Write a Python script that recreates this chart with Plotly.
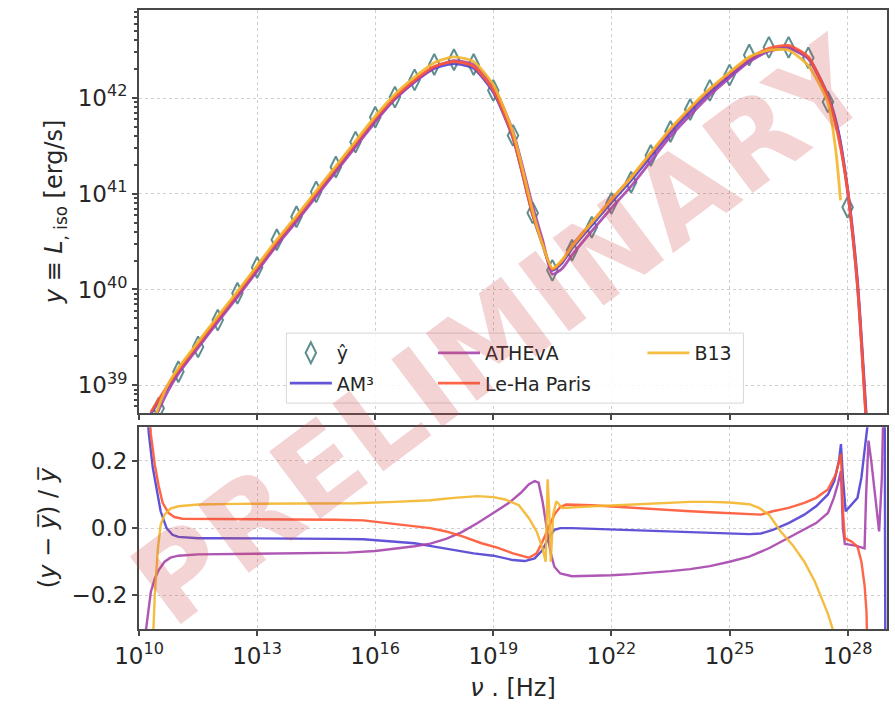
import plotly.graph_objects as go

# ---------------- data (log10 values) ----------------
nu_obs = [10.5, 11.0, 11.5, 12.0, 12.5, 13.0, 13.5, 14.0, 14.5, 15.0, 15.5, 16.0,
          16.5, 17.0, 17.5, 18.0, 18.5, 19.0, 19.5, 20.0, 20.5, 21.0, 21.5, 22.0,
          22.5, 23.0, 23.5, 24.0, 24.5, 25.0, 25.5, 26.0, 26.5, 27.0, 27.5, 28.0]
L_obs = [38.76, 39.14, 39.40, 39.68, 39.96, 40.23, 40.52, 40.76, 41.02, 41.28, 41.54, 41.80,
         42.01, 42.19, 42.35, 42.40, 42.35, 42.08, 41.61, 40.80, 40.20, 40.41, 40.65, 40.90,
         41.12, 41.40, 41.65, 41.88, 42.08, 42.24, 42.45, 42.53, 42.53, 42.42, 41.96, 40.86]

nu_sed = [10.3, 10.5, 10.75, 11.0, 11.5, 12.0, 12.5, 13.0, 13.5, 14.0, 14.5, 15.0, 15.5,
          16.0, 16.5, 17.0, 17.5, 18.0, 18.5, 19.0, 19.5, 20.0, 20.25, 20.5, 20.75, 21.0,
          21.5, 22.0, 22.5, 23.0, 23.5, 24.0, 24.5, 25.0, 25.5, 26.0, 26.5, 27.0, 27.5,
          27.75, 28.0, 28.25, 28.5]
L_am3 = [38.70, 38.83, 38.99, 39.14, 39.41, 39.68, 39.94, 40.21, 40.48, 40.73, 40.99, 41.25, 41.51,
         41.77, 41.99, 42.17, 42.31, 42.36, 42.31, 42.06, 41.58, 40.78, 40.47, 40.20, 40.28, 40.43,
         40.67, 40.91, 41.14, 41.39, 41.64, 41.86, 42.06, 42.23, 42.39, 42.50, 42.53, 42.42, 42.03,
         41.68, 41.05, 40.09, 38.50]
L_athe = [38.55, 38.74, 38.95, 39.12, 39.39, 39.66, 39.92, 40.19, 40.46, 40.71, 40.97, 41.23, 41.49,
          41.75, 41.99, 42.17, 42.32, 42.39, 42.35, 42.12, 41.65, 40.87, 40.52, 40.16, 40.22, 40.36,
          40.61, 40.85, 41.08, 41.34, 41.60, 41.82, 42.03, 42.21, 42.38, 42.49, 42.52, 42.41, 42.00,
          41.66, 41.02, 40.03, 38.45]
L_leha = [38.72, 38.85, 39.01, 39.16, 39.43, 39.70, 39.96, 40.23, 40.50, 40.75, 41.01, 41.27, 41.53,
          41.79, 42.01, 42.19, 42.33, 42.38, 42.33, 42.08, 41.59, 40.78, 40.48, 40.21, 40.30, 40.46,
          40.70, 40.94, 41.17, 41.42, 41.67, 41.89, 42.09, 42.26, 42.42, 42.52, 42.55, 42.43, 42.01,
          41.62, 41.04, 40.05, 38.40]
nu_b13 = [10.3, 10.5, 10.75, 11.0, 11.5, 12.0, 12.5, 13.0, 13.5, 14.0, 14.5, 15.0, 15.5,
          16.0, 16.5, 17.0, 17.5, 18.0, 18.5, 19.0, 19.5, 20.0, 20.25, 20.5, 20.75, 21.0,
          21.5, 22.0, 22.5, 23.0, 23.5, 24.0, 24.5, 25.0, 25.5, 26.0, 26.5, 27.0, 27.5,
          27.7, 27.82]
L_b13 = [38.50, 38.78, 39.02, 39.18, 39.45, 39.72, 39.98, 40.25, 40.52, 40.77, 41.03, 41.29, 41.55,
         41.81, 42.04, 42.22, 42.37, 42.43, 42.38, 42.14, 41.64, 40.82, 40.47, 40.22, 40.31, 40.45,
         40.70, 40.94, 41.17, 41.43, 41.68, 41.90, 42.10, 42.27, 42.43, 42.50, 42.50, 42.34, 41.95,
         41.45, 40.93]

# residuals (y - ybar)/ybar
nu_r_am3 = [10.15, 10.25, 10.35, 10.45, 10.55, 10.7, 10.85, 11.0, 11.5, 12.0, 13.0, 14.0, 15.0, 15.7,
            16.5, 17.0, 17.5, 18.0, 18.5, 19.0, 19.5, 19.8, 20.05, 20.25, 20.4, 20.55, 20.7, 21.0,
            21.5, 22.0, 22.5, 23.0, 23.5, 24.0, 24.5, 25.0, 25.5, 25.8, 26.1, 26.5, 26.9, 27.2, 27.5,
            27.66, 27.78, 27.83, 27.88, 27.95, 28.1, 28.25, 28.35, 28.45, 28.52, 28.6, 28.94, 28.96]
r_am3 = [0.45, 0.28, 0.18, 0.11, 0.05, 0.0, -0.02, -0.026, -0.03, -0.03, -0.03, -0.03, -0.032, -0.033,
         -0.04, -0.045, -0.055, -0.065, -0.075, -0.082, -0.095, -0.098, -0.09, -0.065, -0.03, -0.005, 0.0, 0.0,
         -0.002, -0.004, -0.006, -0.009, -0.012, -0.014, -0.016, -0.018, -0.018, -0.016, -0.005, 0.015, 0.04, 0.065, 0.10,
         0.14, 0.20, 0.25, 0.15, 0.05, 0.07, 0.09, 0.15, 0.25, 0.32, 0.5, 0.5, -0.5]

nu_r_athe = [10.1, 10.18, 10.3, 10.4, 10.5, 10.65, 10.8, 11.0, 11.5, 12.5, 13.5, 14.5, 15.3, 16.0,
             16.6, 17.0, 17.4, 17.8, 18.2, 18.6, 19.0, 19.4, 19.7, 19.9, 20.05, 20.15, 20.25, 20.35,
             20.45, 20.55, 20.7, 21.0, 21.5, 22.0, 22.5, 23.0, 23.5, 24.0, 24.5, 25.0, 25.5, 26.0,
             26.4, 26.8, 27.2, 27.5, 27.65, 27.75, 27.83, 27.88, 27.93, 28.2, 28.43, 28.47, 28.53,
             28.6, 28.72, 28.8, 28.87, 28.95]
r_athe = [-0.5, -0.3, -0.19, -0.15, -0.125, -0.10, -0.088, -0.082, -0.078, -0.077, -0.077, -0.076, -0.073, -0.068,
          -0.06, -0.054, -0.046, -0.032, -0.012, 0.015, 0.045, 0.075, 0.105, 0.13, 0.14, 0.135, 0.08, 0.0,
          -0.07, -0.115, -0.135, -0.143, -0.142, -0.14, -0.137, -0.133, -0.128, -0.122, -0.113, -0.10, -0.085, -0.06,
          -0.035, -0.01, 0.015, 0.045, 0.09, 0.13, 0.17, 0.0, -0.047, -0.052, -0.06, 0.10, 0.26,
          0.20, 0.08, -0.01, 0.15, 0.6]

nu_r_leha = [10.2, 10.3, 10.4, 10.5, 10.6, 10.75, 10.9, 11.1, 12.0, 13.0, 14.0, 15.0, 15.7, 16.2,
             16.8, 17.4, 17.8, 18.2, 18.7, 19.1, 19.5, 19.9, 20.1, 20.25, 20.4, 20.55, 20.7, 20.85,
             21.5, 22.0, 22.5, 23.0, 23.5, 24.0, 24.5, 25.0, 25.5, 25.8, 26.1, 26.5, 26.9, 27.2,
             27.5, 27.7, 27.83, 27.88, 27.93, 28.1, 28.25, 28.35, 28.43, 28.48, 28.52]
r_leha = [0.5, 0.28, 0.19, 0.125, 0.075, 0.045, 0.033, 0.028, 0.027, 0.027, 0.026, 0.025, 0.023, 0.016,
          0.008, 0.0, -0.01, -0.024, -0.045, -0.058, -0.075, -0.088, -0.075, -0.04, 0.0, 0.04, 0.063, 0.07,
          0.068, 0.064, 0.06, 0.057, 0.053, 0.05, 0.047, 0.044, 0.04, 0.04, 0.05, 0.06, 0.075, 0.09,
          0.115, 0.16, 0.22, 0.05, -0.03, -0.04, -0.055, -0.10, -0.17, -0.25, -0.5]

nu_r_b13 = [10.3, 10.4, 10.48, 10.55, 10.65, 10.8, 11.0, 11.5, 12.5, 13.5, 14.5, 15.5, 16.5, 17.4,
            18.0, 18.6, 19.0, 19.3, 19.65, 19.9, 20.1, 20.25, 20.33, 20.38, 20.42, 20.46, 20.52,
            20.6, 20.75, 21.0, 21.5, 22.0, 22.5, 23.0, 23.5, 24.0, 24.5, 25.0, 25.5, 25.75, 26.0,
            26.3, 26.6, 26.9, 27.16, 27.35, 27.5, 27.62, 27.7]
r_b13 = [-0.5, -0.2, -0.06, 0.01, 0.04, 0.058, 0.065, 0.07, 0.072, 0.073, 0.073, 0.074, 0.078, 0.083,
         0.09, 0.095, 0.092, 0.085, 0.068, 0.03, -0.01, -0.06, -0.10, 0.145, 0.05, -0.10, 0.04,
         0.08, 0.06, 0.062, 0.065, 0.067, 0.07, 0.073, 0.076, 0.078, 0.078, 0.076, 0.071, 0.06, 0.04,
         -0.01, -0.05, -0.10, -0.157, -0.21, -0.255, -0.30, -0.35]

names = ["AM³", "ATHEvA", "Le-Ha Paris", "B13"]
colors = ["#5242d2", "#a745ae", "#ff5534", "#f4b62c"]

x_major = [10, 13, 16, 19, 22, 25, 28]
y_major = [39, 40, 41, 42]

# ---------------- figure ----------------
def p10(a):
    return [10.0 ** float(v) for v in a]

fig = go.Figure()

fig.add_trace(go.Scatter(
    x=p10(nu_obs), y=p10(L_obs), mode="markers", name="ŷ",
    marker=dict(symbol="diamond-tall-open", size=15, color="#5f8e8e", line=dict(width=2)),
    xaxis="x", yaxis="y", legend="legend"))

top_sets = [(nu_sed, L_am3), (nu_sed, L_athe), (nu_sed, L_leha), (nu_b13, L_b13)]
res_sets = [(nu_r_am3, r_am3), (nu_r_athe, r_athe), (nu_r_leha, r_leha), (nu_r_b13, r_b13)]
leg_ids = ["legend2", "legend3", "legend4", "legend5"]

for (nx, ly), nm, c, lg in zip(top_sets, names, colors, leg_ids):
    fig.add_trace(go.Scatter(
        x=p10(nx), y=p10(ly), mode="lines", name=nm,
        line=dict(color=c, width=2.8, shape="spline", smoothing=0.6),
        opacity=0.9, xaxis="x", yaxis="y", legend=lg))

for (nx, r), nm, c in zip(res_sets, names, colors):
    fig.add_trace(go.Scatter(
        x=p10(nx), y=r, mode="lines", name=nm, line=dict(color=c, width=2.4),
        opacity=0.9, xaxis="x2", yaxis="y2", showlegend=False))

frame = "#484848"
grid = "#cfcfcf"
tickfont = dict(family="DejaVu Sans", size=23, color="#262626")
titlefont = dict(family="DejaVu Sans", size=24, color="#262626")

xcommon = dict(type="log", range=[10, 29], tickvals=p10(x_major),
               ticktext=[f"10<sup>{v}</sup>" for v in x_major],
               showgrid=True, gridcolor=grid, griddash="dot", gridwidth=1,
               showline=True, linecolor=frame, linewidth=2, mirror=True,
               ticks="outside", ticklen=5, tickcolor=frame, tickwidth=1.5, zeroline=False,
               tickfont=tickfont)

fig.update_layout(
    width=895, height=711,
    margin=dict(l=139, r=6, t=10, b=82),
    paper_bgcolor="white", plot_bgcolor="white",
    font=dict(family="DejaVu Sans", size=18, color="#262626"),
    xaxis=dict(xcommon, domain=[0, 1], anchor="y", showticklabels=False),
    yaxis=dict(type="log", domain=[0.349, 1], anchor="x", range=[38.71, 42.92],
               tickvals=p10(y_major), ticktext=[f"10<sup>{v}</sup>" for v in y_major],
               showgrid=True, gridcolor=grid, griddash="dot", gridwidth=1,
               showline=True, linecolor=frame, linewidth=2, mirror=True,
               ticks="outside", ticklen=5, tickcolor=frame, tickwidth=1.5, tickfont=tickfont,
               minor=dict(ticks="outside", ticklen=3, tickcolor=frame, dtick="D1", showgrid=False),
               title=dict(text="<i>y</i> ≡ <i>L</i><sub>, iso</sub> [erg/s]", font=titlefont, standoff=8)),
    xaxis2=dict(xcommon, domain=[0, 1], anchor="y2", matches="x",
                title=dict(text="<i>ν</i> . [Hz]", font=titlefont, standoff=12)),
    yaxis2=dict(domain=[0, 0.326], anchor="x2", range=[-0.3, 0.3],
                tickvals=[-0.2, 0.0, 0.2], ticktext=["−0.2", "0.0", "0.2"],
                showgrid=True, gridcolor=grid, griddash="dot", gridwidth=1, zeroline=False,
                showline=True, linecolor=frame, linewidth=2, mirror=True,
                ticks="outside", ticklen=5, tickcolor=frame, tickwidth=1.5, tickfont=tickfont,
                title=dict(text="(<i>y</i> − <i>y̅</i>) / <i>y̅</i>", font=titlefont, standoff=8)),
)

# legend frame
fig.add_shape(type="rect", xref="paper", yref="paper", x0=0.197, x1=0.808, y0=0.365, y1=0.478,
              fillcolor="rgba(255,255,255,0.85)", line=dict(color="#d6d6d6", width=1), layer="above")

legfont = dict(family="DejaVu Sans", size=19, color="#262626")
leg_common = dict(bgcolor="rgba(0,0,0,0)", borderwidth=0, font=legfont, itemwidth=42,
                  xanchor="left", yanchor="middle")
fig.update_layout(
    legend=dict(leg_common, x=0.195, y=0.446),
    legend2=dict(leg_common, x=0.195, y=0.397),
    legend3=dict(leg_common, x=0.393, y=0.446),
    legend4=dict(leg_common, x=0.393, y=0.397),
    legend5=dict(leg_common, x=0.673, y=0.446),
)

# watermark
fig.add_annotation(text="<b>PRELIMINARY</b>", xref="paper", yref="paper", x=0.485, y=0.48,
                   showarrow=False, textangle=-37,
                   font=dict(family="DejaVu Sans", size=116, color="rgba(205,70,70,0.24)"))

fig.write_html("out.html")
